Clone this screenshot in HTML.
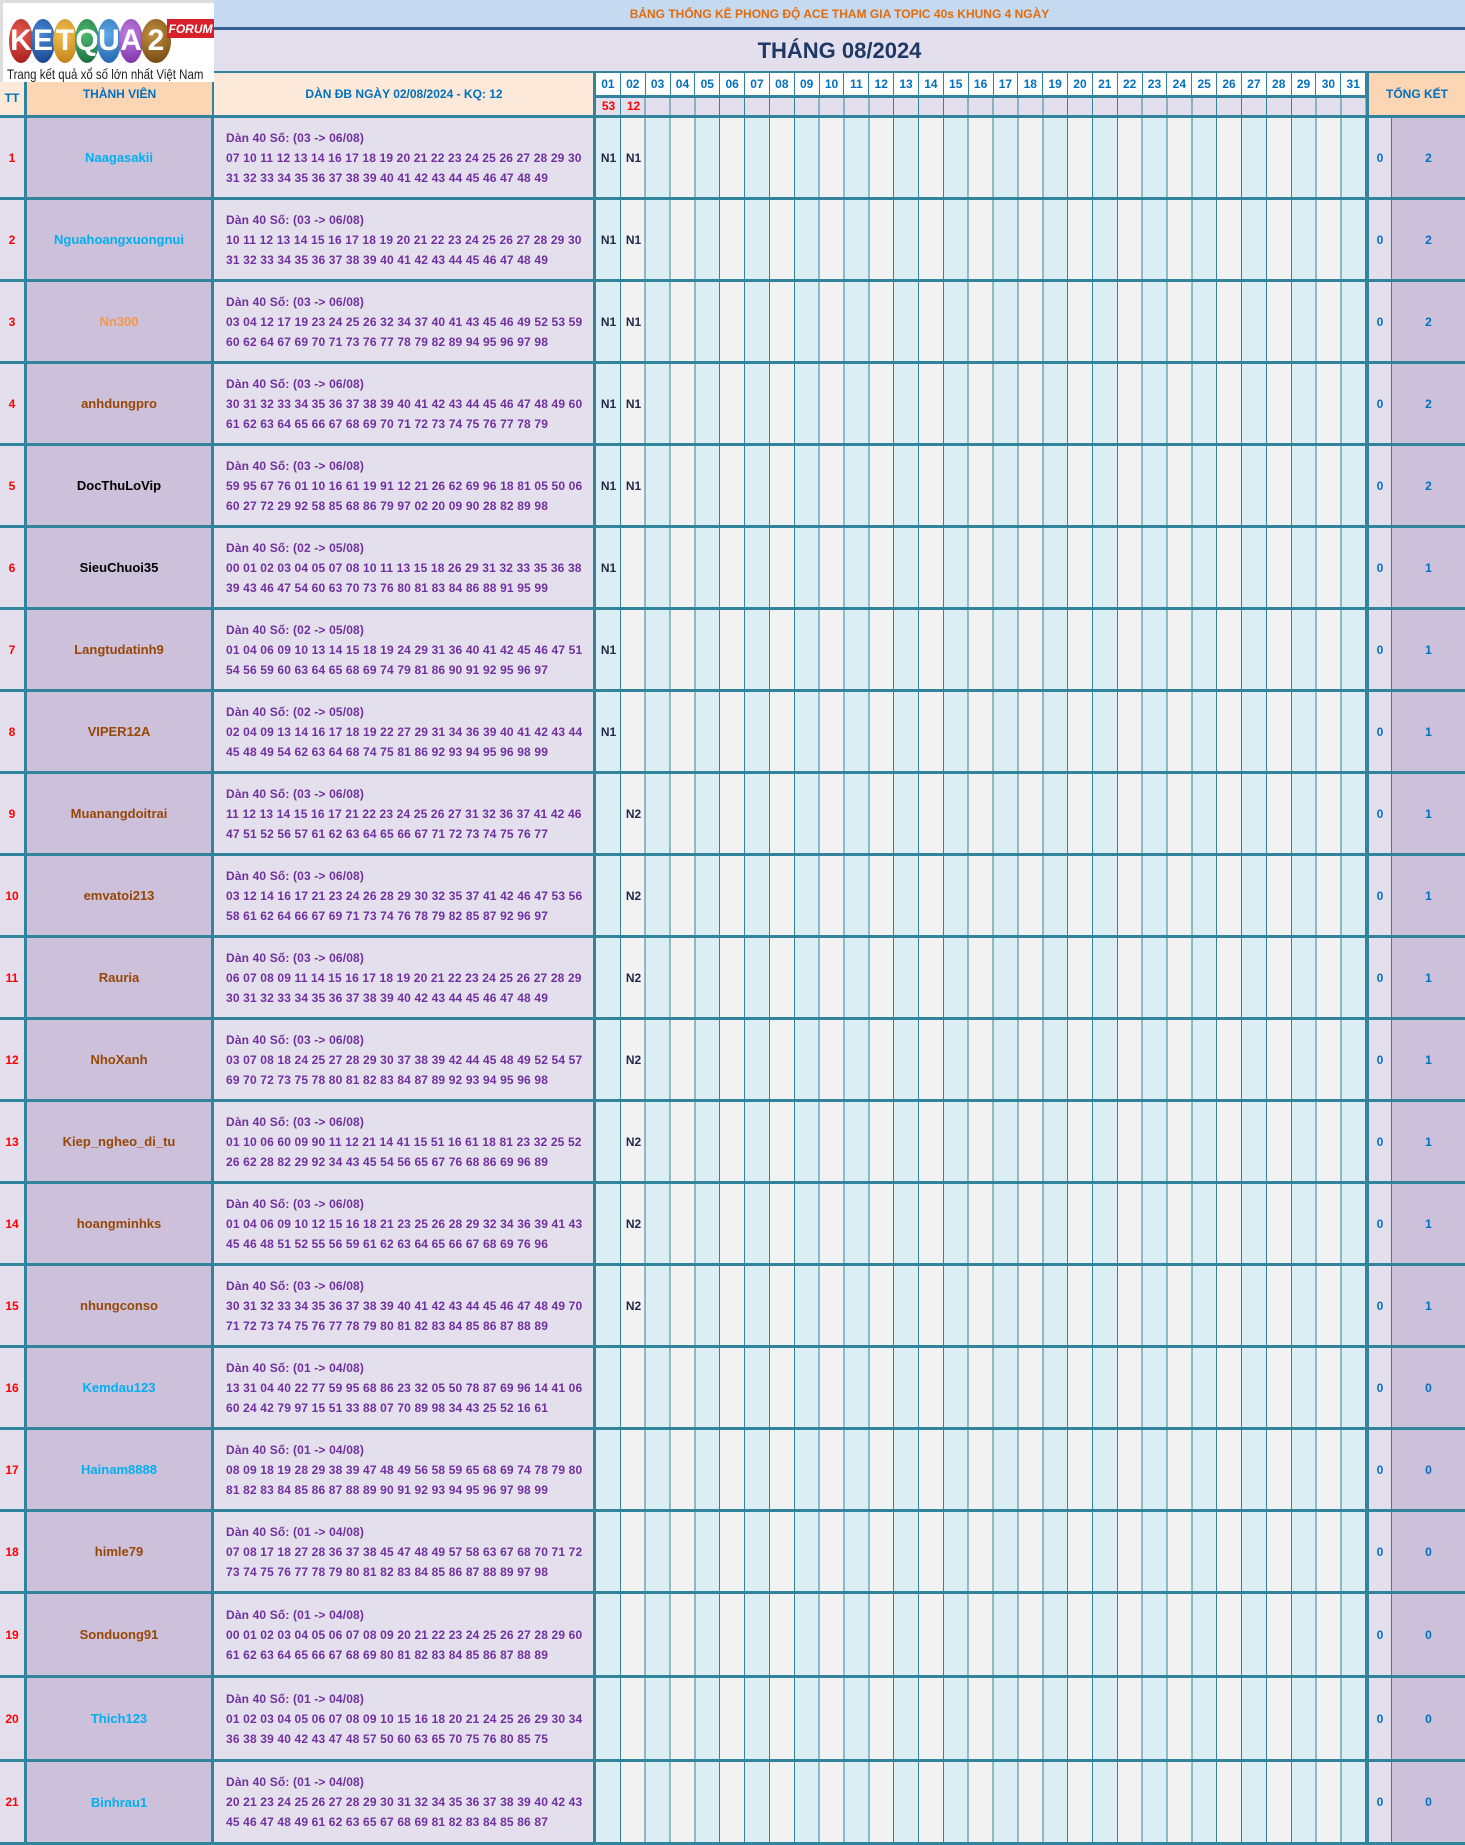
<!DOCTYPE html>
<html><head><meta charset="utf-8">
<style>
*{margin:0;padding:0;box-sizing:border-box}
body{width:1465px;height:1845px;position:relative;background:#fff;font-family:"Liberation Sans",sans-serif;font-weight:bold;overflow:hidden}
.a{position:absolute}
.c{display:flex;align-items:center;justify-content:center;text-align:center}
.row{position:absolute;left:0;width:1465px;border-top:3px solid #31849b}
.row>div{position:absolute;top:0;height:100%}
.tt{left:0;width:27px;background:#e4dfec;color:#ff0000;font-size:12px;border-right:3px solid #31849b}
.mem{left:27px;width:187px;background:#ccc0da;font-size:13px;border-right:3px solid #31849b}
.dan{left:214px;width:380px;background:#e4dfec;color:#7030a0;font-size:12px;padding-left:12px;display:flex;flex-direction:column;justify-content:center;line-height:20px;white-space:nowrap;letter-spacing:0.15px}
.days{left:593px;width:776px;background:repeating-linear-gradient(90deg,#31849b 0 1px,#daeef3 1px 24.85px,#31849b 24.85px 25.85px,#f2f2f2 25.85px 49.7px);background-position:-1px 0;border-left:3px solid #31849b;border-right:3px solid #31849b}
.n{position:absolute;top:0;height:100%;width:25px;font-size:12px;color:#1f2a4a;display:flex;align-items:center;justify-content:center}
.z{left:1369px;width:23px;background:#e4dfec;color:#0070c0;font-size:12px;border-right:1px solid #31849b}
.tk{left:1392px;width:73px;background:#ccc0da;color:#0070c0;font-size:12px}
.bl{color:#00b0f0}.br{color:#974706}.or{color:#f79646}.bk{color:#000}
.hd{position:absolute;left:0;top:0;width:770px;height:22px;display:flex}
.hd span{flex:1;font-size:12px;color:#0070c0;display:flex;align-items:center;justify-content:center;border-right:1px solid #31849b}
.circ{position:absolute;top:16px;width:24px;height:44px;border-radius:50%;color:#fff;font-size:30px;display:flex;align-items:center;justify-content:center;font-weight:bold}
</style></head><body>
<div class="a c" style="left:214px;top:0;width:1251px;height:30px;background:#c5d9f1;color:#e26b0a;font-size:12px;border-bottom:3px solid #366092;">BẢNG THỐNG KÊ PHONG ĐỘ ACE THAM GIA TOPIC 40s KHUNG 4 NGÀY</div>
<div class="a c" style="left:214px;top:30px;width:1251px;height:43px;background:#e4dfec;color:#1f3864;font-size:22px;border-bottom:2px solid #31849b">THÁNG 08/2024</div>
<div class="a" style="left:0;top:30px;width:214px;height:43px;background:#e4dfec"></div>
<div class="a c" style="left:0;top:73px;width:27px;height:42px;background:#fde9d9;color:#0070c0;font-size:12px;border-right:3px solid #31849b;padding-top:8px">TT</div>
<div class="a c" style="left:27px;top:73px;width:187px;height:42px;background:#fcd5b4;color:#0070c0;font-size:12px;border-right:2px solid #31849b">THÀNH VIÊN</div>
<div class="a c" style="left:214px;top:73px;width:380px;height:42px;background:#fde9d9;color:#0070c0;font-size:12px">DÀN ĐB NGÀY 02/08/2024 - KQ: 12</div>
<div class="a" style="left:593px;top:73px;width:776px;height:42px;background:#fff;border-left:3px solid #31849b;border-right:3px solid #31849b">
<div class="a" style="left:0;top:22px;width:770px;height:20px;background:repeating-linear-gradient(90deg,#e4dfec 0 23.85px,#31849b 23.85px 24.85px);border-top:3px solid #31849b"></div>
<div class="hd"><span>01</span><span>02</span><span>03</span><span>04</span><span>05</span><span>06</span><span>07</span><span>08</span><span>09</span><span>10</span><span>11</span><span>12</span><span>13</span><span>14</span><span>15</span><span>16</span><span>17</span><span>18</span><span>19</span><span>20</span><span>21</span><span>22</span><span>23</span><span>24</span><span>25</span><span>26</span><span>27</span><span>28</span><span>29</span><span>30</span><span>31</span></div>
<div class="a c" style="left:0;top:24px;width:25px;height:18px;color:#f00;font-size:12px">53</div><div class="a c" style="left:25px;top:24px;width:25px;height:18px;color:#f00;font-size:12px">12</div>
</div>
<div class="a c" style="left:1369px;top:73px;width:96px;height:42px;background:#fcd5b4;color:#0070c0;font-size:12px">TỔNG KẾT</div>
<div class="a" style="left:0;top:0;width:214px;height:82px;background:#fff;border-left:3px solid #ddd;border-top:3px solid #ddd;overflow:hidden">
<div class="circ" style="left:6px;background:radial-gradient(circle at 40% 35%,#e85a50,#a01818)">K</div>
<div class="circ" style="left:28px;background:radial-gradient(circle at 40% 35%,#4a8ad8,#123f85)">E</div>
<div class="circ" style="left:50px;background:radial-gradient(circle at 40% 35%,#f2c050,#c07a10)">T</div>
<div class="circ" style="left:72px;background:radial-gradient(circle at 40% 35%,#50b870,#14683a)">Q</div>
<div class="circ" style="left:94px;background:radial-gradient(circle at 40% 35%,#60a8e8,#1c5fa8)">U</div>
<div class="circ" style="left:116px;background:radial-gradient(circle at 40% 35%,#c080e0,#7a2aa8)">A</div>
<div class="circ" style="left:138px;width:30px;background:radial-gradient(circle at 40% 35%,#c09040,#6a4008)">2</div>
<div class="a c" style="left:164px;top:16px;width:47px;height:19px;background:#d8202a;color:#fff;font-size:12px;font-style:italic">FORUM</div>
<div class="a" style="left:4px;top:63px;font-size:14px;font-weight:normal;color:#222;white-space:nowrap;transform:scaleX(0.82);transform-origin:0 0">Trang kết quả xổ số lớn nhất Việt Nam</div>
</div>

<div class="row" style="top:115px;height:82px"><div class="tt c">1</div><div class="mem c bl">Naagasakii</div><div class="dan"><span>Dàn 40 Số: (03 -&gt; 06/08)</span><span>07 10 11 12 13 14 16 17 18 19 20 21 22 23 24 25 26 27 28 29 30</span><span>31 32 33 34 35 36 37 38 39 40 41 42 43 44 45 46 47 48 49</span></div><div class="days"><div class="n" style="left:0">N1</div><div class="n" style="left:25px">N1</div></div><div class="z c">0</div><div class="tk c">2</div></div>
<div class="row" style="top:197px;height:82px"><div class="tt c">2</div><div class="mem c bl">Nguahoangxuongnui</div><div class="dan"><span>Dàn 40 Số: (03 -&gt; 06/08)</span><span>10 11 12 13 14 15 16 17 18 19 20 21 22 23 24 25 26 27 28 29 30</span><span>31 32 33 34 35 36 37 38 39 40 41 42 43 44 45 46 47 48 49</span></div><div class="days"><div class="n" style="left:0">N1</div><div class="n" style="left:25px">N1</div></div><div class="z c">0</div><div class="tk c">2</div></div>
<div class="row" style="top:279px;height:82px"><div class="tt c">3</div><div class="mem c or">Nn300</div><div class="dan"><span>Dàn 40 Số: (03 -&gt; 06/08)</span><span>03 04 12 17 19 23 24 25 26 32 34 37 40 41 43 45 46 49 52 53 59</span><span>60 62 64 67 69 70 71 73 76 77 78 79 82 89 94 95 96 97 98</span></div><div class="days"><div class="n" style="left:0">N1</div><div class="n" style="left:25px">N1</div></div><div class="z c">0</div><div class="tk c">2</div></div>
<div class="row" style="top:361px;height:82px"><div class="tt c">4</div><div class="mem c br">anhdungpro</div><div class="dan"><span>Dàn 40 Số: (03 -&gt; 06/08)</span><span>30 31 32 33 34 35 36 37 38 39 40 41 42 43 44 45 46 47 48 49 60</span><span>61 62 63 64 65 66 67 68 69 70 71 72 73 74 75 76 77 78 79</span></div><div class="days"><div class="n" style="left:0">N1</div><div class="n" style="left:25px">N1</div></div><div class="z c">0</div><div class="tk c">2</div></div>
<div class="row" style="top:443px;height:82px"><div class="tt c">5</div><div class="mem c bk">DocThuLoVip</div><div class="dan"><span>Dàn 40 Số: (03 -&gt; 06/08)</span><span>59 95 67 76 01 10 16 61 19 91 12 21 26 62 69 96 18 81 05 50 06</span><span>60 27 72 29 92 58 85 68 86 79 97 02 20 09 90 28 82 89 98</span></div><div class="days"><div class="n" style="left:0">N1</div><div class="n" style="left:25px">N1</div></div><div class="z c">0</div><div class="tk c">2</div></div>
<div class="row" style="top:525px;height:82px"><div class="tt c">6</div><div class="mem c bk">SieuChuoi35</div><div class="dan"><span>Dàn 40 Số: (02 -&gt; 05/08)</span><span>00 01 02 03 04 05 07 08 10 11 13 15 18 26 29 31 32 33 35 36 38</span><span>39 43 46 47 54 60 63 70 73 76 80 81 83 84 86 88 91 95 99</span></div><div class="days"><div class="n" style="left:0">N1</div></div><div class="z c">0</div><div class="tk c">1</div></div>
<div class="row" style="top:607px;height:82px"><div class="tt c">7</div><div class="mem c br">Langtudatinh9</div><div class="dan"><span>Dàn 40 Số: (02 -&gt; 05/08)</span><span>01 04 06 09 10 13 14 15 18 19 24 29 31 36 40 41 42 45 46 47 51</span><span>54 56 59 60 63 64 65 68 69 74 79 81 86 90 91 92 95 96 97</span></div><div class="days"><div class="n" style="left:0">N1</div></div><div class="z c">0</div><div class="tk c">1</div></div>
<div class="row" style="top:689px;height:82px"><div class="tt c">8</div><div class="mem c br">VIPER12A</div><div class="dan"><span>Dàn 40 Số: (02 -&gt; 05/08)</span><span>02 04 09 13 14 16 17 18 19 22 27 29 31 34 36 39 40 41 42 43 44</span><span>45 48 49 54 62 63 64 68 74 75 81 86 92 93 94 95 96 98 99</span></div><div class="days"><div class="n" style="left:0">N1</div></div><div class="z c">0</div><div class="tk c">1</div></div>
<div class="row" style="top:771px;height:82px"><div class="tt c">9</div><div class="mem c br">Muanangdoitrai</div><div class="dan"><span>Dàn 40 Số: (03 -&gt; 06/08)</span><span>11 12 13 14 15 16 17 21 22 23 24 25 26 27 31 32 36 37 41 42 46</span><span>47 51 52 56 57 61 62 63 64 65 66 67 71 72 73 74 75 76 77</span></div><div class="days"><div class="n" style="left:25px">N2</div></div><div class="z c">0</div><div class="tk c">1</div></div>
<div class="row" style="top:853px;height:82px"><div class="tt c">10</div><div class="mem c br">emvatoi213</div><div class="dan"><span>Dàn 40 Số: (03 -&gt; 06/08)</span><span>03 12 14 16 17 21 23 24 26 28 29 30 32 35 37 41 42 46 47 53 56</span><span>58 61 62 64 66 67 69 71 73 74 76 78 79 82 85 87 92 96 97</span></div><div class="days"><div class="n" style="left:25px">N2</div></div><div class="z c">0</div><div class="tk c">1</div></div>
<div class="row" style="top:935px;height:82px"><div class="tt c">11</div><div class="mem c br">Rauria</div><div class="dan"><span>Dàn 40 Số: (03 -&gt; 06/08)</span><span>06 07 08 09 11 14 15 16 17 18 19 20 21 22 23 24 25 26 27 28 29</span><span>30 31 32 33 34 35 36 37 38 39 40 42 43 44 45 46 47 48 49</span></div><div class="days"><div class="n" style="left:25px">N2</div></div><div class="z c">0</div><div class="tk c">1</div></div>
<div class="row" style="top:1017px;height:82px"><div class="tt c">12</div><div class="mem c br">NhoXanh</div><div class="dan"><span>Dàn 40 Số: (03 -&gt; 06/08)</span><span>03 07 08 18 24 25 27 28 29 30 37 38 39 42 44 45 48 49 52 54 57</span><span>69 70 72 73 75 78 80 81 82 83 84 87 89 92 93 94 95 96 98</span></div><div class="days"><div class="n" style="left:25px">N2</div></div><div class="z c">0</div><div class="tk c">1</div></div>
<div class="row" style="top:1099px;height:82px"><div class="tt c">13</div><div class="mem c br">Kiep_ngheo_di_tu</div><div class="dan"><span>Dàn 40 Số: (03 -&gt; 06/08)</span><span>01 10 06 60 09 90 11 12 21 14 41 15 51 16 61 18 81 23 32 25 52</span><span>26 62 28 82 29 92 34 43 45 54 56 65 67 76 68 86 69 96 89</span></div><div class="days"><div class="n" style="left:25px">N2</div></div><div class="z c">0</div><div class="tk c">1</div></div>
<div class="row" style="top:1181px;height:82px"><div class="tt c">14</div><div class="mem c br">hoangminhks</div><div class="dan"><span>Dàn 40 Số: (03 -&gt; 06/08)</span><span>01 04 06 09 10 12 15 16 18 21 23 25 26 28 29 32 34 36 39 41 43</span><span>45 46 48 51 52 55 56 59 61 62 63 64 65 66 67 68 69 76 96</span></div><div class="days"><div class="n" style="left:25px">N2</div></div><div class="z c">0</div><div class="tk c">1</div></div>
<div class="row" style="top:1263px;height:82px"><div class="tt c">15</div><div class="mem c br">nhungconso</div><div class="dan"><span>Dàn 40 Số: (03 -&gt; 06/08)</span><span>30 31 32 33 34 35 36 37 38 39 40 41 42 43 44 45 46 47 48 49 70</span><span>71 72 73 74 75 76 77 78 79 80 81 82 83 84 85 86 87 88 89</span></div><div class="days"><div class="n" style="left:25px">N2</div></div><div class="z c">0</div><div class="tk c">1</div></div>
<div class="row" style="top:1345px;height:82px"><div class="tt c">16</div><div class="mem c bl">Kemdau123</div><div class="dan"><span>Dàn 40 Số: (01 -&gt; 04/08)</span><span>13 31 04 40 22 77 59 95 68 86 23 32 05 50 78 87 69 96 14 41 06</span><span>60 24 42 79 97 15 51 33 88 07 70 89 98 34 43 25 52 16 61</span></div><div class="days"></div><div class="z c">0</div><div class="tk c">0</div></div>
<div class="row" style="top:1427px;height:82px"><div class="tt c">17</div><div class="mem c bl">Hainam8888</div><div class="dan"><span>Dàn 40 Số: (01 -&gt; 04/08)</span><span>08 09 18 19 28 29 38 39 47 48 49 56 58 59 65 68 69 74 78 79 80</span><span>81 82 83 84 85 86 87 88 89 90 91 92 93 94 95 96 97 98 99</span></div><div class="days"></div><div class="z c">0</div><div class="tk c">0</div></div>
<div class="row" style="top:1509px;height:82px"><div class="tt c">18</div><div class="mem c br">himle79</div><div class="dan"><span>Dàn 40 Số: (01 -&gt; 04/08)</span><span>07 08 17 18 27 28 36 37 38 45 47 48 49 57 58 63 67 68 70 71 72</span><span>73 74 75 76 77 78 79 80 81 82 83 84 85 86 87 88 89 97 98</span></div><div class="days"></div><div class="z c">0</div><div class="tk c">0</div></div>
<div class="row" style="top:1591px;height:84px"><div class="tt c">19</div><div class="mem c br">Sonduong91</div><div class="dan"><span>Dàn 40 Số: (01 -&gt; 04/08)</span><span>00 01 02 03 04 05 06 07 08 09 20 21 22 23 24 25 26 27 28 29 60</span><span>61 62 63 64 65 66 67 68 69 80 81 82 83 84 85 86 87 88 89</span></div><div class="days"></div><div class="z c">0</div><div class="tk c">0</div></div>
<div class="row" style="top:1675px;height:84px"><div class="tt c">20</div><div class="mem c bl">Thich123</div><div class="dan"><span>Dàn 40 Số: (01 -&gt; 04/08)</span><span>01 02 03 04 05 06 07 08 09 10 15 16 18 20 21 24 25 26 29 30 34</span><span>36 38 39 40 42 43 47 48 57 50 60 63 65 70 75 76 80 85 75</span></div><div class="days"></div><div class="z c">0</div><div class="tk c">0</div></div>
<div class="row" style="top:1759px;height:86px;border-bottom:3px solid #31849b"><div class="tt c">21</div><div class="mem c bl">Binhrau1</div><div class="dan"><span>Dàn 40 Số: (01 -&gt; 04/08)</span><span>20 21 23 24 25 26 27 28 29 30 31 32 34 35 36 37 38 39 40 42 43</span><span>45 46 47 48 49 61 62 63 65 67 68 69 81 82 83 84 85 86 87</span></div><div class="days"></div><div class="z c">0</div><div class="tk c">0</div></div>
</body></html>
